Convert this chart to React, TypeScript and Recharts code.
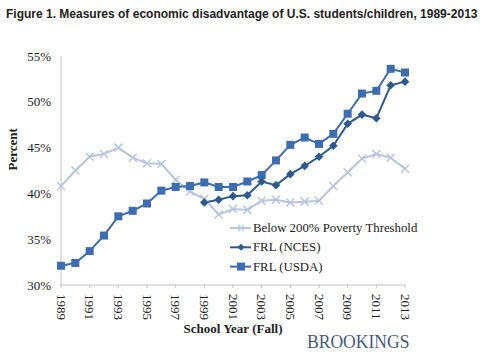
import React from 'react';
import { LineChart, Line, XAxis, YAxis } from 'recharts';

const years = [1989,1990,1991,1992,1993,1994,1995,1996,1997,1998,1999,2000,2001,2002,2003,2004,2005,2006,2007,2008,2009,2010,2011,2012,2013];
const poverty = [40.8,42.5,44.0,44.3,45.0,43.9,43.3,43.2,41.5,40.2,39.4,37.7,38.3,38.2,39.2,39.3,39.0,39.1,39.2,40.8,42.3,43.8,44.3,43.9,42.7];
const frlNces = [null,null,null,null,null,null,null,null,null,null,39.0,39.3,39.7,39.8,41.3,40.9,42.1,43.0,44.0,45.2,47.6,48.6,48.2,51.8,52.2];
const frlUsda = [32.1,32.4,33.7,35.4,37.5,38.1,38.9,40.3,40.7,40.8,41.2,40.7,40.7,41.3,42.0,43.6,45.3,46.1,45.4,46.5,48.7,50.9,51.2,53.6,53.2];
const yTicks = [30,35,40,45,50,55];
const xTicks = [1989,1991,1993,1995,1997,1999,2001,2003,2005,2007,2009,2011,2013];

const data = years.map((y, i) => ({ year: y, poverty: poverty[i], nces: frlNces[i], usda: frlUsda[i] }));

const C_POV = '#b7c5df';
const C_NCES = '#2d5a8e';
const C_USDA = '#3b6db0';
const SERIF = '"Liberation Serif", "Times New Roman", serif';

const CrossDot = (p: any) => {
  const { cx, cy, value } = p;
  if (value == null || cx == null || cy == null) return <g key={p.key} />;
  const s = 4;
  return (
    <g key={p.key}>
      <line x1={cx - s} y1={cy - s} x2={cx + s} y2={cy + s} stroke={C_POV} strokeWidth={1.5} />
      <line x1={cx - s} y1={cy + s} x2={cx + s} y2={cy - s} stroke={C_POV} strokeWidth={1.5} />
    </g>
  );
};
const DiamondDot = (p: any) => {
  const { cx, cy, value } = p;
  if (value == null || cx == null || cy == null) return <g key={p.key} />;
  const s = 4.3;
  return <path key={p.key} d={`M${cx},${cy - s}L${cx + s},${cy}L${cx},${cy + s}L${cx - s},${cy}Z`} fill={C_NCES} />;
};
const SquareDot = (p: any) => {
  const { cx, cy, value } = p;
  if (value == null || cx == null || cy == null) return <g key={p.key} />;
  const s = 4;
  return <rect key={p.key} x={cx - s} y={cy - s} width={2 * s} height={2 * s} fill={C_USDA} />;
};

const XTick = (p: any) => {
  const { x, y, payload } = p;
  return (
    <text x={0} y={0} transform={`translate(${x},${y + 4}) rotate(90)`} textAnchor="start" dominantBaseline="central"
      fontFamily={SERIF} fontSize={13} fill="#222">{payload.value}</text>
  );
};

export default function App() {
  return (
    <div style={{ position: 'absolute', left: 0, top: 0, width: 485, height: 360, background: '#fff' }}>
      <div style={{ position: 'absolute', left: 6, top: 7, whiteSpace: 'nowrap', fontFamily: '"Liberation Sans", Arial, sans-serif', fontWeight: 'bold', fontSize: 12, color: '#222' }}>
        Figure 1. Measures of economic disadvantage of U.S. students/children, 1989-2013
      </div>
      <div style={{ position: 'absolute', left: 0, top: 0 }}>
        <LineChart width={485} height={360} data={data} margin={{ top: 56, right: 80, bottom: 30, left: 0 }}>
          <XAxis dataKey="year" type="number" domain={[1989, 2013]} ticks={xTicks} interval={0}
            stroke="#c0c0c0" tickSize={3} tick={<XTick />} height={45}
            label={{ value: 'School Year (Fall)', position: 'insideBottom', offset: -3, fontFamily: SERIF, fontWeight: 'bold', fontSize: 13, fill: '#222' }} />
          <YAxis type="number" domain={[30, 55]} ticks={yTicks} interval={0} width={61} stroke="#c0c0c0"
            tickLine={false} tickSize={6} tickMargin={4} tickFormatter={(v: number) => `${v}%`}
            tick={{ fontFamily: SERIF, fontSize: 13, fill: '#222' }}
            label={{ value: 'Percent', angle: -90, position: 'insideLeft', offset: 12, fontFamily: SERIF, fontWeight: 'bold', fontSize: 13, fill: '#222' }} />
          <Line dataKey="poverty" stroke={C_POV} strokeWidth={2} dot={CrossDot} isAnimationActive={false} />
          <Line dataKey="usda" stroke={C_USDA} strokeWidth={2} dot={SquareDot} isAnimationActive={false} />
          <Line dataKey="nces" stroke={C_NCES} strokeWidth={2} dot={DiamondDot} isAnimationActive={false} connectNulls={false} />
        </LineChart>
      </div>
      <svg width={220} height={60} style={{ position: 'absolute', left: 228, top: 216 }}>
        {[
          { label: 'Below 200% Poverty Threshold', color: C_POV, kind: 'x' },
          { label: 'FRL (NCES)', color: C_NCES, kind: 'd' },
          { label: 'FRL (USDA)', color: C_USDA, kind: 's' },
        ].map((e, i) => {
          const cy = 12 + i * 19.3;
          const cx = 13;
          return (
            <g key={e.label}>
              <line x1={2} x2={23} y1={cy} y2={cy} stroke={e.color} strokeWidth={2} />
              {e.kind === 'x' && (
                <g>
                  <line x1={cx - 3} y1={cy - 3} x2={cx + 3} y2={cy + 3} stroke={e.color} strokeWidth={1.2} />
                  <line x1={cx - 3} y1={cy + 3} x2={cx + 3} y2={cy - 3} stroke={e.color} strokeWidth={1.2} />
                </g>
              )}
              {e.kind === 'd' && <path d={`M${cx},${cy - 3.5}L${cx + 3.5},${cy}L${cx},${cy + 3.5}L${cx - 3.5},${cy}Z`} fill={e.color} />}
              {e.kind === 's' && <rect x={cx - 4} y={cy - 4} width={8} height={8} fill={e.color} />}
              <text x={25} y={cy} dominantBaseline="central" fontFamily={SERIF} fontSize={12.8} fill="#222">{e.label}</text>
            </g>
          );
        })}
      </svg>
      <div style={{ position: 'absolute', left: 307, top: 331, fontFamily: SERIF, fontSize: 19.5, color: '#4a5a80', whiteSpace: 'nowrap', transform: 'scaleX(0.9)', transformOrigin: 'left center' }}>
        BROOKINGS
      </div>
    </div>
  );
}
